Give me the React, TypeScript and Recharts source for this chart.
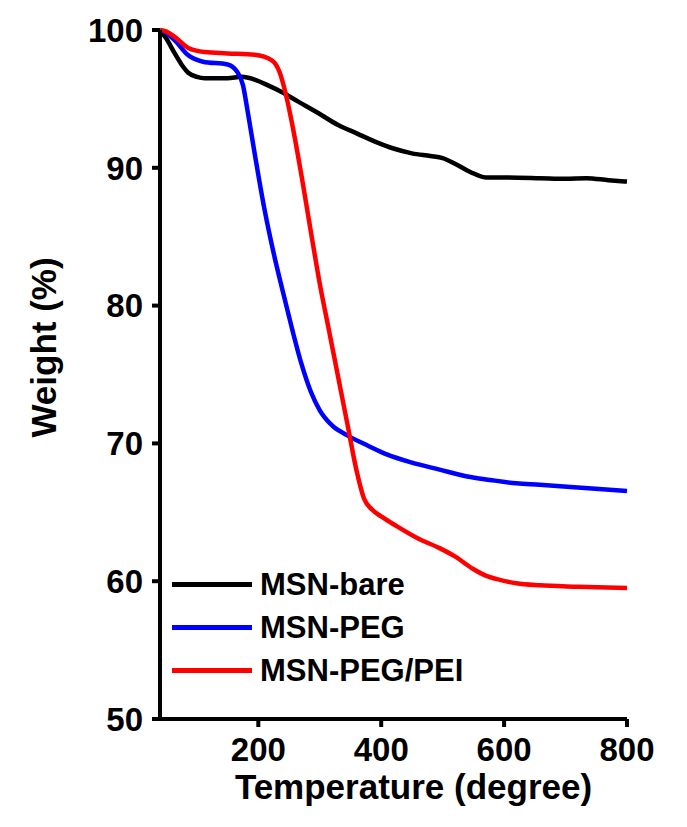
import React from 'react';
import { LineChart, Line, XAxis, YAxis, Legend } from 'recharts';

// TGA curves (temperature in degree, weight in %)
const bareTemp = [40, 50, 64, 75, 86, 100, 113, 150, 173, 194, 215, 238, 265, 300, 330, 360, 390, 420, 450, 480, 500, 520, 545, 570, 600, 658, 700, 734, 770, 800];
const bareWeight = [100, 99.4, 98.3, 97.5, 96.9, 96.6, 96.5, 96.5, 96.6, 96.4, 96.0, 95.5, 94.8, 93.9, 93.1, 92.5, 91.9, 91.4, 91.05, 90.85, 90.7, 90.3, 89.7, 89.3, 89.3, 89.25, 89.2, 89.25, 89.1, 89.0];

const pegTemp = [40, 50, 65, 85, 110, 150, 165, 175, 183, 195, 210, 225, 240, 255, 270, 285, 300, 320, 344, 380, 409, 450, 495, 540, 577, 620, 658, 720, 800];
const pegWeight = [100, 99.8, 99.2, 98.2, 97.7, 97.5, 97.0, 96.0, 94.0, 90.8, 87.0, 83.8, 81.0, 78.3, 75.8, 73.8, 72.4, 71.3, 70.6, 69.8, 69.2, 68.6, 68.1, 67.6, 67.35, 67.1, 67.0, 66.8, 66.55];

const peiTemp = [40, 50, 64, 86, 113, 150, 194, 222, 235, 245, 255, 270, 285, 300, 315, 330, 345, 360, 372, 385, 400, 425, 460, 495, 520, 549, 570, 593, 620, 658, 720, 800];
const peiWeight = [100, 99.9, 99.5, 98.7, 98.4, 98.3, 98.2, 97.8, 96.9, 95.3, 93.2, 89.5, 85.5, 81.6, 78.2, 74.8, 71.4, 68.0, 66.0, 65.2, 64.7, 64.0, 63.1, 62.4, 61.8, 60.9, 60.4, 60.1, 59.85, 59.7, 59.6, 59.5];

const xTicks = [200, 400, 600, 800];
const yTicks = [50, 60, 70, 80, 90, 100];

const seriesNames = ['MSN-bare', 'MSN-PEG', 'MSN-PEG/PEI'];
const seriesColors = ['#000000', '#0000ff', '#ff0000'];

const toRows = (temps: number[], weights: number[]) =>
  temps.map((t, i) => ({ temp: t, weight: weights[i] }));

const series = [
  toRows(bareTemp, bareWeight),
  toRows(pegTemp, pegWeight),
  toRows(peiTemp, peiWeight),
];

const FONT = '"Liberation Sans", Arial, sans-serif';

const renderLegend = (props: any) => {
  // keep the plotting order, not the alphabetical one
  const items = [...(props.payload || [])].sort(
    (a: any, b: any) => seriesNames.indexOf(a.value) - seriesNames.indexOf(b.value)
  );
  return (
    <div>
      {items.map((entry: any) => (
        <div key={entry.value} style={{ display: 'flex', alignItems: 'center', height: 43 }}>
          <div style={{ width: 80, height: 5, background: entry.color, marginRight: 8 }} />
          <span style={{ fontFamily: FONT, fontWeight: 'bold', fontSize: 31, color: '#000', whiteSpace: 'nowrap' }}>
            {entry.value}
          </span>
        </div>
      ))}
    </div>
  );
};

export default function App() {
  return (
    <div style={{ position: 'absolute', left: 0, top: 0, width: 687, height: 827, background: '#fff' }}>
      <LineChart
        width={687}
        height={827}
        margin={{ top: 30, right: 60, bottom: 28, left: 80 }}
      >
        <XAxis
          dataKey="temp"
          type="number"
          domain={[40, 800]}
          ticks={xTicks}
          allowDuplicatedCategory={false}
          height={80}
          tickSize={8}
          tickMargin={11}
          axisLine={{ stroke: '#000', strokeWidth: 4 }}
          tickLine={{ stroke: '#000', strokeWidth: 4 }}
          tick={{ fill: '#000', fontSize: 33, fontWeight: 'bold', fontFamily: FONT }}
          label={{
            content: (p: any) => {
              const vb = p.viewBox;
              return (
                <text
                  x={vb.x + vb.width / 2 + 20}
                  y={vb.y + 80}
                  textAnchor="middle"
                  fontSize={35}
                  fontWeight="bold"
                  fontFamily={FONT}
                  fill="#000"
                >
                  Temperature (degree)
                </text>
              );
            },
          }}
        />
        <YAxis
          type="number"
          domain={[50, 100]}
          ticks={yTicks}
          width={80}
          tickSize={8}
          tickMargin={9}
          axisLine={{ stroke: '#000', strokeWidth: 4 }}
          tickLine={{ stroke: '#000', strokeWidth: 4 }}
          tick={{ fill: '#000', fontSize: 33, fontWeight: 'bold', fontFamily: FONT }}
          label={{
            content: (p: any) => {
              const vb = p.viewBox;
              const cx = 43;
              const cy = vb.y + vb.height / 2 - 27;
              return (
                <text
                  x={cx}
                  y={cy}
                  transform={`rotate(-90 ${cx} ${cy})`}
                  textAnchor="middle"
                  dominantBaseline="central"
                  fontSize={35}
                  fontWeight="bold"
                  fontFamily={FONT}
                  fill="#000"
                >
                  Weight (%)
                </text>
              );
            },
          }}
        />
        <Legend
          content={renderLegend}
          layout="vertical"
          verticalAlign="middle"
          align="center"
          wrapperStyle={{ position: 'absolute', left: 172, top: 563, width: 320, height: 130 }}
        />
        {series.map((rows, i) => (
          <Line
            key={seriesNames[i]}
            data={rows}
            dataKey="weight"
            name={seriesNames[i]}
            type="monotone"
            stroke={seriesColors[i]}
            strokeWidth={4.5}
            dot={false}
            activeDot={false}
            isAnimationActive={false}
          />
        ))}
      </LineChart>
    </div>
  );
}
